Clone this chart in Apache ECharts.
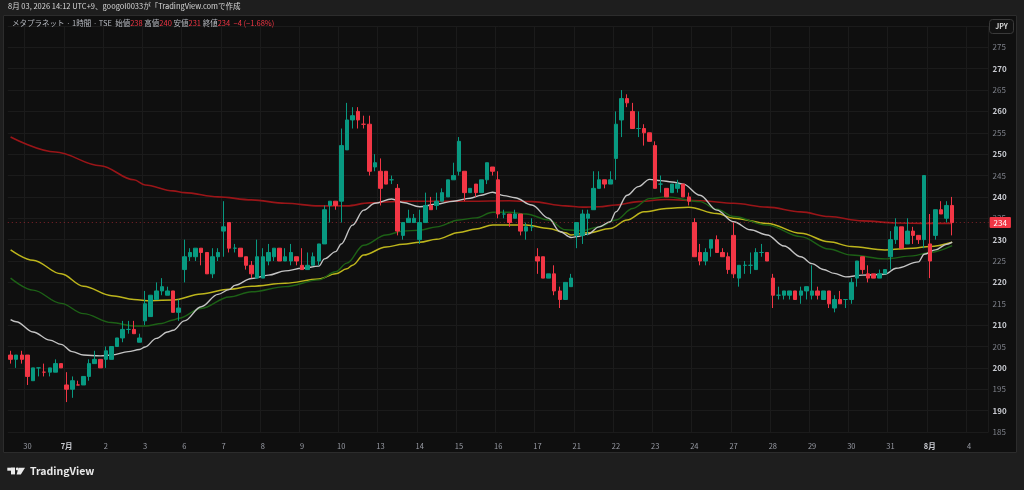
<!DOCTYPE html>
<html><head><meta charset="utf-8">
<script src="https://cdn.jsdelivr.net/npm/echarts@6/dist/echarts.min.js"></script>
<style>html,body{margin:0;padding:0;background:#1e1e1e}#c{width:1024px;height:490px}</style>
</head><body><div id="c"></div>
<script>
// ---- tick labels / days (each trading day = 7 hourly bars) ----
const dayLabels = ['6/29','30','7月','2','3','6','7','8','9','10','13','14','15','16','17','21','22','23','24','27','28','29','30','31','8月','4'];
const firstDayBars = 3;   // visible bars of 6/29
const lastDayBars = 4;    // empty slots of 8/4
const barsPerDay = 7;
const yTicks = {min: 185, max: 280, step: 5};

// ---- OHLC: [open, close, low, high] ----
const candles = [
[203,202,201,204],[202,203,200,203],[203,202,201,204],
[203,198,196,203],[197,200,197,200],[200,200,198,200],[199,199,198,201],[199,200,198,200],[199,201,199,202],[201,200,200,201],
[196,195,192,199],[195,197,193,198],[196,196,196,197],[196,198,196,198],[198,201,197,202],[201,202,201,204],[202,200,200,202],
[202,204,200,205],[202,205,202,205],[205,207,205,207],[207,209,206,211],[209,209,208,211],[209,208,208,211],[206,207,206,208],
[211,215,210,218],[212,217,212,217],[216,218,216,220],[218,219,217,221],[217,218,217,219],[218,213,213,218],[213,214,211,216],
[223,226,220,230],[226,227,225,228],[226,228,225,228],[228,227,224,228],[227,222,222,227],[222,226,221,228],[226,227,225,228],
[232,233,226,239],[234,228,227,234],[228,228,227,229],[228,226,226,228],[226,224,223,226],[224,222,221,225],[221,226,221,230],
[221,226,221,228],[225,227,224,229],[226,228,225,228],[228,225,225,228],[225,226,225,228],[225,227,224,229],[226,225,224,226],
[224,223,223,228],[223,224,223,227],[224,226,224,227],[225,229,224,229],[229,237,229,238],[238,239,234,239],[239,238,237,239],
[239,252,234,256],[251,258,251,262],[258,259,256,261],[260,258,256,261],[257,257,256,259],[257,246,245,259],[247,248,246,250],
[246,242,238,249],[246,243,243,246],[244,244,243,245],[242,232,231,243],[231,234,230,234],[234,235,234,237],[234,235,234,236],
[230,234,229,237],[234,238,234,241],[238,237,237,240],[238,239,237,241],[239,241,239,242],[240,244,240,244],[244,245,244,248],
[246,253,245,254],[246,241,239,246],[241,242,241,242],[243,241,240,243],[241,244,241,244],[244,248,243,248],[247,246,245,247],
[244,236,235,246],[236,236,235,237],[236,234,233,236],[235,236,235,237],[236,232,231,236],[232,233,230,234],[233,233,232,235],
[226,225,222,228],[226,221,221,226],[221,222,221,222],[222,218,217,224],[218,216,214,219],[216,220,216,220],[219,221,219,222],
[231,234,228,234],[231,236,229,237],[235,236,231,237],[237,242,237,246],[242,244,242,246],[244,243,242,244],[243,244,243,246],
[249,257,244,260],[258,263,254,265],[263,262,261,264],[260,256,256,262],[256,256,254,260],[256,255,252,257],[255,253,253,255],
[252,242,242,253],[243,243,241,245],[242,240,240,242],[241,243,241,243],[242,243,241,244],[243,240,240,243],[240,239,238,241],
[234,226,226,235],[227,225,224,229],[225,227,224,228],[228,230,226,230],[230,227,227,231],[227,226,226,228],[226,223,222,227],
[231,222,221,234],[221,224,219,224],[224,224,222,225],[224,224,222,227],[223,227,223,228],[227,227,226,229],[227,225,225,227],
[221,217,214,222],[217,217,216,219],[217,218,216,218],[217,218,216,218],[218,216,216,218],[217,218,215,219],[218,219,216,219],
[217,218,216,224],[218,217,216,219],[216,218,216,218],[218,215,214,218],[214,216,213,217],[216,215,215,218],[216,216,214,216],
[216,220,215,221],[221,225,219,225],[226,223,222,226],[222,221,220,224],[222,221,221,222],[221,222,221,223],[222,223,222,223],
[226,230,223,232],[230,233,229,235],[233,228,228,233],[229,232,229,235],[232,231,229,233],[231,230,229,231],[230,245,228,245],
[229,225,221,236],[231,237,230,237],[237,236,236,239],[235,238,234,239],[238,234,231,240]
];

// ---- moving averages: [bar offset from 6/30 09:00, price] ----
const maWhite = [[-3,211.3],[-2,210.8],[1,208.4],[4,206.5],[6,205.5],[8,203.8],[10,203.0],[13,202.8],[15,203.0],[18,203.8],[20,204.3],[21,204.9],[23,206.9],[25,208.4],[26,208.8],[28,211.0],[31,214.3],[34,217.2],[36,218.3],[37,219.3],[40,220.9],[43,221.7],[46,222.7],[49,223.3],[52,223.8],[53,225.5],[55,227.2],[56,229.0],[58,233.4],[60,236.9],[62,238.5],[65,239.5],[67,238.7],[70,237.7],[73,238.3],[76,239.0],[79,239.7],[81,240.4],[83,241.1],[85,240.3],[87,239.8],[90,238.1],[93,235.0],[95,231.9],[97,230.5],[98,230.7],[100,231.3],[102,233.0],[104,234.2],[105,236.5],[107,240.4],[109,242.4],[111,244.1],[113,243.8],[115,243.5],[117,243.0],[120,240.4],[123,236.9],[126,234.2],[129,232.3],[132,231.1],[135,228.5],[138,226.0],[140,224.4],[142,223.0],[144,222.1],[146,221.3],[149,221.7],[153,221.9],[155,223.3],[159,224.8],[160,226.6],[162,227.6],[164,228.9],[165,229.4]];
const maYellow = [[-3,227.6],[1,225.2],[6,222.0],[10,219.1],[15,216.9],[19,216.0],[22,215.7],[26,215.9],[31,217.3],[36,218.4],[40,219.1],[46,219.8],[52,220.8],[55,222.0],[57,223.2],[58,224.0],[60,226.4],[64,228.3],[67,228.9],[70,229.4],[73,230.1],[77,231.7],[80,232.5],[83,233.4],[86,233.4],[89,233.4],[93,232.6],[96,231.6],[97,231.1],[100,231.6],[104,232.6],[107,234.6],[110,236.5],[114,237.3],[118,237.6],[123,236.1],[126,235.0],[132,233.8],[138,231.5],[143,229.5],[147,228.4],[153,227.6],[158,228.0],[161,228.4],[165,229.4]];
const maGreen = [[-3,221.0],[1,218.2],[6,215.1],[10,212.7],[15,210.6],[19,209.8],[21,209.8],[24,210.4],[26,211.2],[27,211.6],[31,213.9],[36,216.6],[40,217.8],[46,219.0],[52,220.6],[55,222.5],[57,224.5],[60,228.7],[64,231.1],[67,232.0],[70,232.2],[73,233.0],[77,234.6],[80,235.1],[83,236.4],[86,236.4],[89,236.0],[93,234.6],[96,232.3],[99,232.1],[102,233.0],[105,234.6],[108,237.3],[111,239.6],[114,240.0],[120,238.9],[123,237.1],[126,235.4],[132,233.4],[138,230.7],[143,227.8],[147,226.4],[153,225.5],[158,226.2],[161,227.0],[165,228.6]];
const maRed = [[-3,254.0],[5,250.5],[13,247.3],[19,244.0],[21,242.8],[26,241.4],[28,241.0],[34,240.0],[40,239.3],[46,238.5],[52,237.9],[57,237.9],[61,238.6],[67,239.0],[79,239.0],[86,239.1],[90,238.9],[96,237.9],[99,237.6],[102,237.7],[105,238.1],[109,238.9],[114,239.4],[120,239.1],[126,238.5],[132,237.6],[138,236.5],[143,235.4],[149,234.4],[155,233.9],[161,233.8],[165,233.8]];

const titleText = '8月 03, 2026 14:12 UTC+9、googol0033が「TradingView.comで作成';
const symbolText = 'メタプラネット · 1時間 · TSE';
const quote = {open: 238, high: 240, low: 231, close: 234, change: '−4 (−1.68%)'};

// ---- build categories ----
const categories = [];
dayLabels.forEach((d, k) => {
  const n = k === 0 ? firstDayBars : (k === dayLabels.length - 1 ? lastDayBars : barsPerDay);
  const start = k === 0 ? barsPerDay - firstDayBars : 0;
  for (let b = 0; b < n; b++) categories.push(d + '|' + (start + b));
});
const offset = firstDayBars;
const candleData = categories.map((c, idx) => idx < candles.length ? candles[idx] : '-');
const toCat = arr => arr.map(([i, v]) => [i + offset, v]);
const isDayStart = (v) => v.split('|')[1] === '0';

const FONT = '"Noto Sans CJK JP", "Noto Sans", sans-serif';
const chart = echarts.init(document.getElementById('c'), null, {renderer: 'canvas'});
const lastClose = candles[candles.length - 1][1];

const lineSeries = (data, color, width) => ({
  type: 'line', data: toCat(data), showSymbol: false, smooth: 0.35, smoothMonotone: 'x',
  lineStyle: {color, width}, silent: true, z: 3
});

chart.setOption({
  animation: false,
  backgroundColor: '#0f0f0f',
  grid: {left: 7.8, right: 35.4, top: 25.93, bottom: 58.0, containLabel: false},
  xAxis: {
    type: 'category', data: categories, boundaryGap: true,
    axisLine: {show: false}, axisTick: {show: false},
    axisLabel: {
      interval: (i, v) => isDayStart(v), margin: 10, fontFamily: FONT, fontSize: 7.5, color: '#9a9da6',
      formatter: (v) => { const d = v.split('|')[0]; return d.indexOf('月') >= 0 ? '{b|' + d + '}' : d; },
      rich: {b: {fontWeight: 'bold', color: '#c8cad0', fontSize: 7.5, fontFamily: FONT}}
    },
    splitLine: {show: true, interval: (i, v) => isDayStart(v), lineStyle: {color: '#1b1b1b', width: 1}}
  },
  yAxis: [{
    type: 'value', position: 'right', min: yTicks.min, max: yTicks.max, interval: yTicks.step,
    axisLine: {show: false}, axisTick: {show: false},
    axisLabel: {
      margin: 4, fontFamily: FONT, fontSize: 8,
      formatter: (v) => v > 275 ? '' : (v % 10 === 0 ? '{b|' + v + '}' : '{n|' + v + '}'),
      rich: {b: {color: '#c8cad0', fontWeight: 'bold', fontSize: 8, fontFamily: FONT},
             n: {color: '#7e818a', fontSize: 8, fontFamily: FONT}}
    },
    splitLine: {lineStyle: {color: '#1b1b1b', width: 1}}
  }, {
    type: 'value', position: 'right', min: yTicks.min, max: yTicks.max, interval: yTicks.step,
    axisLine: {show: false}, axisTick: {show: false}, splitLine: {show: false},
    axisLabel: {
      customValues: [lastClose], margin: 1, fontFamily: FONT, fontSize: 8,
      formatter: (v) => v === lastClose ? '{p|' + v + '}' : '',
      rich: {p: {backgroundColor: '#f23645', color: '#ffffff', padding: [2, 4, 1, 4], fontSize: 8, fontFamily: FONT, borderRadius: 1}}
    }
  }],
  series: [
    lineSeries(maRed, '#9a1518', 1.6),
    lineSeries(maYellow, '#bdb51c', 1.5),
    lineSeries(maGreen, '#1d6116', 1.4),
    lineSeries(maWhite, '#c4c4c4', 1.4),
    {
      type: 'candlestick', data: candleData, barWidth: 4, z: 5,
      itemStyle: {color: '#089981', color0: '#f23645', borderColor: '#089981', borderColor0: '#f23645', borderWidth: 1},
      markLine: {
        symbol: 'none', silent: true, animation: false,
        data: [{yAxis: lastClose}],
        lineStyle: {color: 'rgba(242,54,69,0.5)', type: [1, 3], width: 1},
        label: {show: false}
      }
    }
  ],
  graphic: [
    {type: 'rect', shape: {x: 0, y: 0, width: 1024, height: 15}, style: {fill: '#1e1e1e'}, z: 50},
    {type: 'rect', shape: {x: 0, y: 453, width: 1024, height: 37}, style: {fill: '#1e1e1e'}, z: 50},
    {type: 'rect', shape: {x: 0, y: 0, width: 3, height: 490}, style: {fill: '#1e1e1e'}, z: 50},
    {type: 'rect', shape: {x: 1017, y: 0, width: 7, height: 490}, style: {fill: '#1e1e1e'}, z: 50},
    {type: 'rect', shape: {x: 3.5, y: 15.5, width: 1013, height: 437}, style: {fill: 'none', stroke: '#2c2c2c', lineWidth: 1}, z: 51},
    {type: 'text', left: 8, top: 2, z: 52, style: {text: titleText, fill: '#d8d8d8', font: '7.5px ' + FONT}},
    {type: 'text', left: 12, top: 19.5, z: 52, style: {
      text: symbolText + '  始値{r|' + quote.open + '} 高値{r|' + quote.high + '} 安値{r|' + quote.low + '} 終値{r|' + quote.close + '}  {r|' + quote.change + '}',
      fill: '#b8bbc2', font: '7.5px ' + FONT, rich: {r: {fill: '#f23645', font: '7.5px ' + FONT}}}},
    {type: 'rect', z: 52, shape: {x: 989.5, y: 19.5, width: 24, height: 14, r: 3}, style: {fill: '#121212', stroke: '#3a3a3a', lineWidth: 1}},
    {type: 'text', z: 53, style: {x: 1001.5, y: 26.5, text: 'JPY', fill: '#d8d8d8', font: 'bold 7px ' + FONT, align: 'center', verticalAlign: 'middle'}},
    {type: 'rect', z: 53, shape: {x: 7.3, y: 467.7, width: 7.7, height: 3}, style: {fill: '#eaeaea'}},
    {type: 'rect', z: 53, shape: {x: 11, y: 467.7, width: 4, height: 6.7}, style: {fill: '#eaeaea'}},
    {type: 'circle', z: 53, shape: {cx: 17.2, cy: 469, r: 1.4}, style: {fill: '#eaeaea'}},
    {type: 'polygon', z: 53, shape: {points: [[18.6, 467.7], [25, 467.7], [20.8, 474.4], [16.6, 474.4]]}, style: {fill: '#eaeaea'}},
    {type: 'text', z: 53, style: {x: 30, y: 471.3, text: 'TradingView', fill: '#eaeaea', font: 'bold 10.5px ' + FONT, verticalAlign: 'middle'}}
  ]
});
</script></body></html>
